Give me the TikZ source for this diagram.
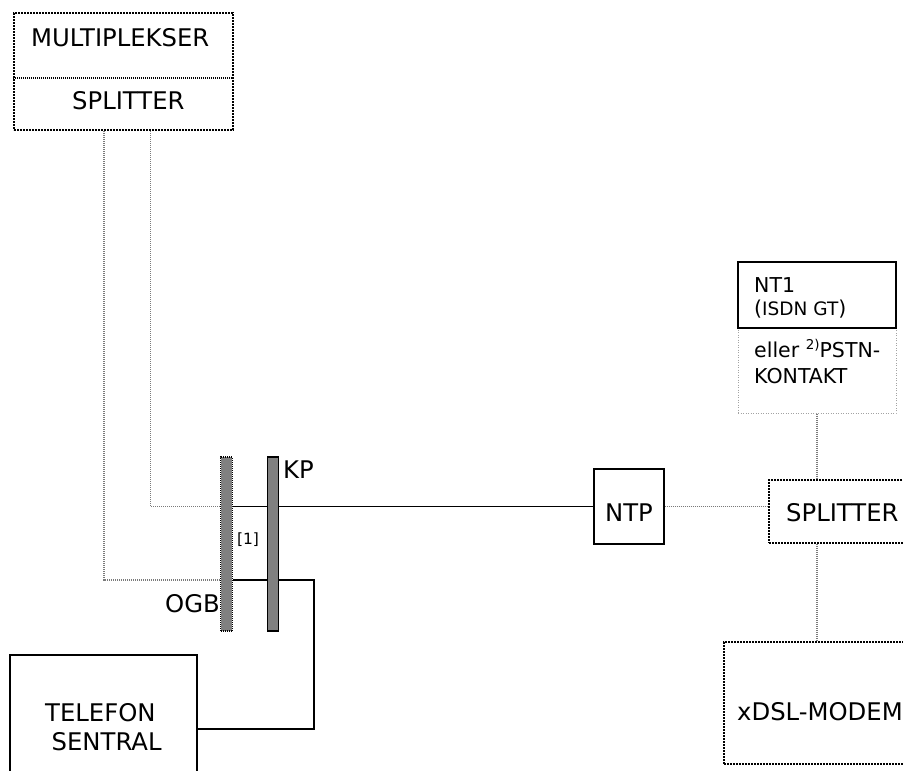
\documentclass[tikz,border=0pt]{standalone}
\usepackage{fontspec}
\setmainfont{DejaVu Sans}
\usepackage{tikz}
\usetikzlibrary{positioning, backgrounds}
\definecolor{bargray}{HTML}{808080}
\definecolor{wiregray}{HTML}{7A7A7A}
\tikzset{
	boxnode/.style={
			rectangle,
			draw=black,
			line width=1.4pt,
			inner sep=0pt
		},
	dotboxnode/.style={
			boxnode,
			line width=2.4pt,
			dash pattern=on 2pt off 1pt
		},
	faintboxnode/.style={
			boxnode,
			draw=wiregray!70,
			line width=1pt,
			dash pattern=on 1pt off 1.5pt
		},
	barnode/.style={
			boxnode,
			fill=bargray,
			line width=1.3pt,
			minimum width=11.5pt,
			minimum height=174pt
		},
	bigtext/.style={
			inner sep=0pt,
			font=\fontsize{24.3}{29}\selectfont
		},
	midtext/.style={
			inner sep=0pt,
			font=\fontsize{20.5}{23}\selectfont
		},
	smalltext/.style={
			inner sep=0pt,
			font=\fontsize{15.5}{18}\selectfont
		},
	wire/.style={
			draw=black,
			line width=1.4pt
		},
	dotwire/.style={
			draw=wiregray,
			line width=1.3pt,
			dash pattern=on 1pt off 1pt
		},
	cutline/.style={
			draw=black,
			line width=1.1pt,
			dash pattern=on 1pt off 1pt
		}
}

\begin{document}
\begin{tikzpicture}[x=1pt, y=-1pt]
\useasboundingbox (0,0) rectangle (903,771);
\clip (0,0) rectangle (903,771);

% boxes
\node[dotboxnode, minimum width=219pt, minimum height=117pt] (nMux) at (123.5,71.5) {};
\node[boxnode, minimum width=70pt, minimum height=75pt] (nNTP) at (629,506.5) {};
\node[dotboxnode, minimum width=146pt, minimum height=63pt] (nSplit) at (842,511.5) {};
\node[faintboxnode, minimum width=158pt, minimum height=85pt] (nPSTN) at (817,370.5) {};
\node[boxnode, minimum width=158pt, minimum height=66pt] (nNT) at (817,295) {};
\node[dotboxnode, minimum width=191pt, minimum height=122pt] (nModem) at (819.5,703) {};
\node[boxnode, minimum width=187pt, minimum height=148pt] (nSentral) at (103.5,729) {};
\node[barnode, dash pattern=on 1pt off 1pt] (nOGB) at (226.5,544) {};
\node[barnode] (nKP) at (273,544) {};

\coordinate (cMuxCut) at (0,78);
\coordinate (cBend) at (314,580);
\draw[cutline] (nMux.west |- cMuxCut) -- (nMux.east |- cMuxCut);

% texts
\node[bigtext, anchor=base west] (tMux) at (31,46) {MULTIPLEKSER};
\node[bigtext, anchor=base west] (tMuxSplit) at (72,109) {SPLITTER};
\node[bigtext, anchor=base west] (tKP) at (283,478) {KP};
\node[bigtext, anchor=base east] (tOGB) at (220,612) {OGB};
\node[smalltext] (tOne) at (248,540) {[1]};
\node[bigtext, anchor=base] (tNTP) at (629,521) {NTP};
\node[bigtext, anchor=base west] (tSplit) at (786,521) {SPLITTER};
\node[bigtext, anchor=base west] (tModem) at (737,720) {xDSL-MODEM};
\node[bigtext, anchor=north west, align=left] (tSentral) at (45,703) {TELEFON\\\hspace*{6.5pt}SENTRAL};
\node[midtext, anchor=north west, align=left] (tNT) at (754,277) {NT1\\({\fontsize{18.5}{20}\selectfont ISDN GT})};
\node[midtext, anchor=north west, align=left, font=\fontsize{20.5}{26}\selectfont] (tPSTN) at (754,339) {eller \raisebox{8pt}{\fontsize{13.5}{14}\selectfont 2)}PSTN-\\KONTAKT};

% connectors
\begin{scope}[on background layer]
\draw[wire] (nOGB.east |- nNTP.west) -- (nNTP.west);
\draw[wire] (nOGB.east |- cBend) -- (cBend) |- (nSentral.east);
\draw[dotwire] ([xshift=-19.5pt]nMux.south) |- (nOGB.west |- cBend);
\draw[dotwire] ([xshift=27pt]nMux.south) |- (nOGB.west |- nNTP.west);
\draw[dotwire] (nNTP.east) -- (nNTP.east -| nSplit.west);
\draw[dotwire] (nPSTN.south) -- (nPSTN.south |- nSplit.north);
\draw[dotwire] (nPSTN.south |- nSplit.south) -- (nPSTN.south |- nModem.north);
\end{scope}

\end{tikzpicture}
\end{document}
